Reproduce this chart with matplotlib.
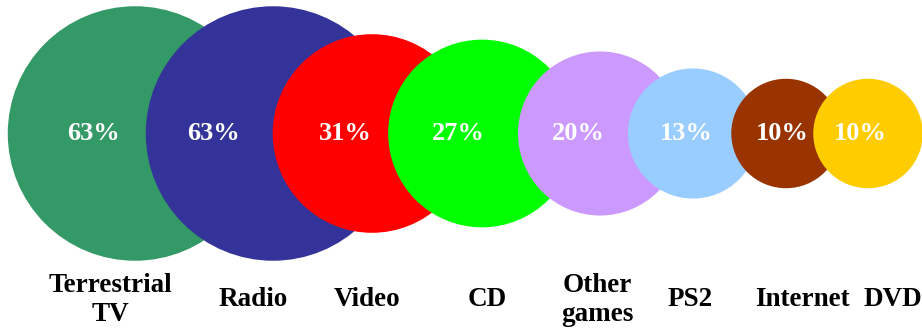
import numpy as np
import matplotlib
matplotlib.use("Agg")
import matplotlib.pyplot as plt
from matplotlib.patches import Circle

# ---- data ----
categories = ["Terrestrial\nTV", "Radio", "Video", "CD", "Other\ngames", "PS2", "Internet", "DVD"]
values = [63, 63, 31, 27, 20, 13, 10, 10]
colors = ["#339966", "#333399", "#FF0000", "#00FF00", "#CC99FF", "#99CCFF", "#993300", "#FFCC00"]

# ---- layout (pixel-like canvas coordinates) ----
W, H = 922, 330
circle_x = [135, 273, 372, 482, 600, 693, 786, 868]
circle_y = 133.5
pct_x = [93, 213, 345, 458, 578, 686, 782, 860]
label_x = [110, 253, 367, 487, 597, 690, 802, 893]
label_y = 300

def radius(v):
    # logarithmic size scale fitted to the reference
    return -36.0 + 39.4 * np.log(v)

fig = plt.figure(figsize=(W / 100, H / 100), dpi=100)
ax = fig.add_axes([0, 0, 1, 1])
ax.set_xlim(0, W)
ax.set_ylim(H, 0)
ax.set_aspect("equal")
ax.axis("off")

font = ["Liberation Serif", "DejaVu Serif"]

for i, (cat, v, c) in enumerate(zip(categories, values, colors)):
    ax.add_patch(Circle((circle_x[i], circle_y), radius(v), facecolor=c,
                        edgecolor="none", zorder=i + 1))
    ax.text(pct_x[i], circle_y, f"{v}%", color="white", fontsize=19,
            fontweight="bold", family=font, ha="center", va="center",
            zorder=20)
    ax.text(label_x[i], label_y, cat, color="black", fontsize=19.5,
            fontweight="bold", family=font, ha="center", va="center",
            linespacing=1.2, zorder=20)

fig.savefig("out.png", dpi=100)
